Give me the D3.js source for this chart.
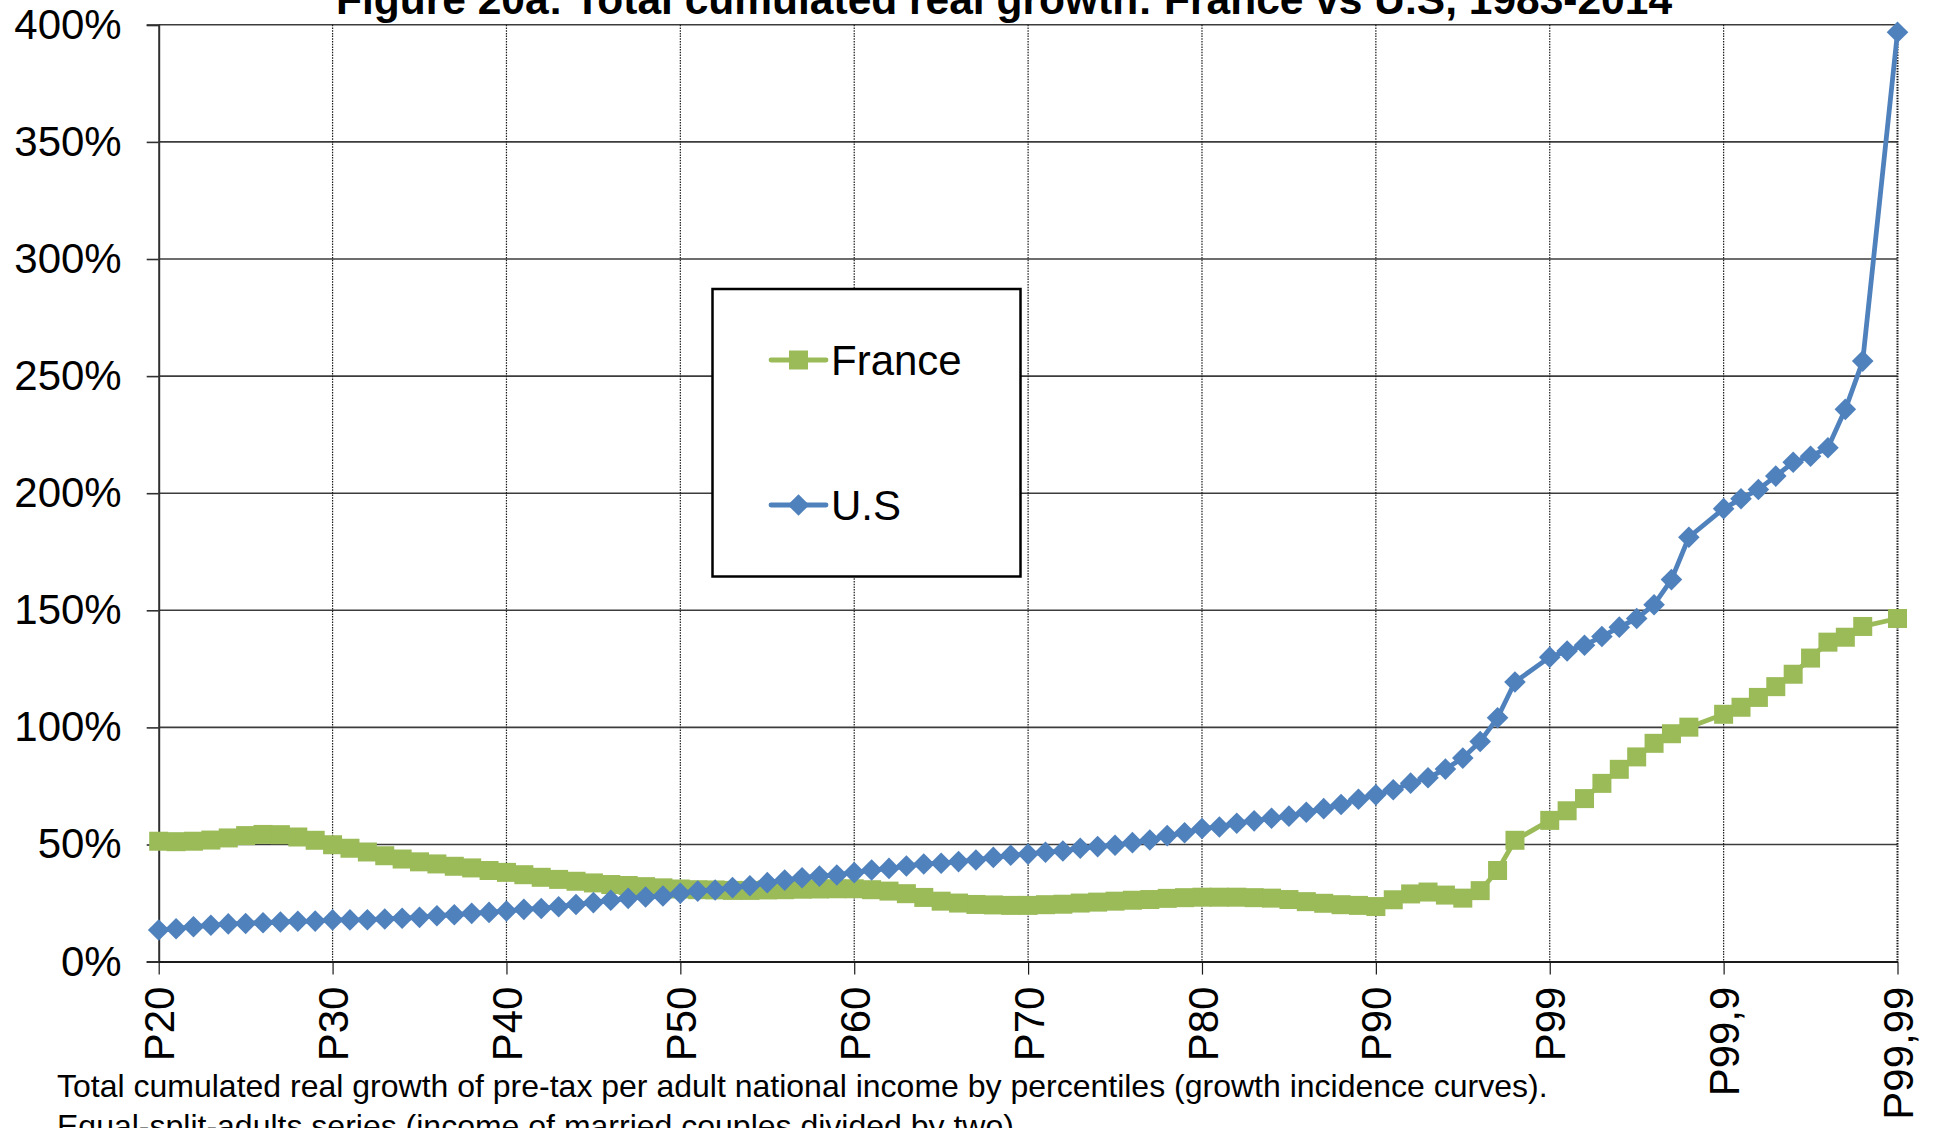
<!DOCTYPE html>
<html>
<head>
<meta charset="utf-8">
<script src="https://cdn.jsdelivr.net/npm/d3@7"></script>
<style>
  html, body { margin: 0; padding: 0; background: #ffffff; }
  svg { display: block; }
  text { font-family: "Liberation Sans", Arial, Helvetica, sans-serif; fill: #000; }
</style>
</head>
<body>
<svg id="chart" width="1933" height="1128"></svg>
<script>
// Percentile categories (null = blank category row without an observation)
const categories = [
  "P20","P21","P22","P23","P24","P25","P26","P27","P28","P29",
  "P30","P31","P32","P33","P34","P35","P36","P37","P38","P39",
  "P40","P41","P42","P43","P44","P45","P46","P47","P48","P49",
  "P50","P51","P52","P53","P54","P55","P56","P57","P58","P59",
  "P60","P61","P62","P63","P64","P65","P66","P67","P68","P69",
  "P70","P71","P72","P73","P74","P75","P76","P77","P78","P79",
  "P80","P81","P82","P83","P84","P85","P86","P87","P88","P89",
  "P90","P91","P92","P93","P94","P95","P96","P97","P98",null,
  "P99","P99,1","P99,2","P99,3","P99,4","P99,5","P99,6","P99,7","P99,8",null,
  "P99,9","P99,91","P99,92","P99,93","P99,94","P99,95","P99,96","P99,97","P99,98",null,
  "P99,99"
];

// Total cumulated real growth 1983-2014, in %
const franceGrowth = [
  51.4, 51.2, 51.4, 51.9, 52.8, 53.8, 54.3, 54.2, 53.2, 51.8,
  49.9, 48.4, 46.8, 45.2, 43.8, 42.6, 41.7, 40.7, 40.0, 38.9,
  38.1, 37.1, 36.0, 35.1, 34.3, 33.6, 32.9, 32.5, 32.0, 31.5,
  31.0, 30.7, 30.6, 30.4, 30.4, 30.6, 30.7, 30.9, 31.0, 31.1,
  31.1, 30.7, 30.1, 29.0, 27.4, 25.8, 25.0, 24.4, 24.2, 24.0,
  24.0, 24.3, 24.5, 25.0, 25.4, 25.8, 26.2, 26.5, 27.0, 27.3,
  27.5, 27.5, 27.5, 27.3, 27.1, 26.5, 25.6, 24.9, 24.3, 24.0,
  23.5, 26.4, 28.9, 29.7, 28.4, 27.1, 30.3, 38.9, 51.8, null,
  60.3, 64.4, 69.6, 76.1, 82.1, 87.4, 93.2, 97.3, 100.1, null,
  105.6, 108.6, 112.8, 117.4, 122.7, 129.6, 136.4, 138.5, 143.1, null,
  146.5
];

const usGrowth = [
  13.5, 14.0, 14.9, 15.5, 16.1, 16.3, 16.6, 16.9, 17.2, 17.3,
  17.8, 17.8, 17.9, 18.2, 18.5, 18.9, 19.6, 20.0, 20.6, 21.0,
  21.6, 22.3, 22.7, 23.4, 24.4, 25.2, 26.2, 27.0, 27.6, 28.0,
  29.2, 30.1, 30.6, 31.6, 32.4, 33.7, 34.8, 35.8, 36.5, 37.0,
  38.0, 39.1, 39.8, 40.8, 41.7, 42.0, 42.7, 43.4, 44.5, 45.4,
  45.9, 46.7, 47.2, 48.4, 49.1, 49.7, 50.8, 51.9, 53.8, 55.0,
  56.8, 57.5, 59.1, 60.1, 61.2, 62.1, 63.8, 65.3, 67.1, 69.3,
  71.2, 73.4, 76.2, 78.5, 82.2, 86.9, 94.0, 104.1, 119.4, null,
  130.0, 132.6, 135.1, 138.8, 142.8, 146.5, 152.4, 163.1, 181.2, null,
  193.4, 197.6, 201.6, 207.3, 213.2, 215.8, 219.4, 235.8, 256.4, null,
  396.8
];

// Axis labels
const xTickLabels = ["P20","P30","P40","P50","P60","P70","P80","P90","P99","P99,9","P99,99"];
const yTickValues = [0, 50, 100, 150, 200, 250, 300, 350, 400];

const seriesNames = ["France", "U.S"];
const seriesColors = ["#9BBB59", "#4F81BD"];

const titleText = "Figure 20a: Total cumulated real growth: France vs U.S, 1983-2014";
const noteLines = [
  "Total cumulated real growth of pre-tax per adult national income by percentiles (growth incidence curves).",
  "Equal-split-adults series (income of married couples divided by two)"
];

const svg = d3.select("#chart");
const FONT = 42;

const plot = { left: 158.7, right: 1897.5, top: 24.8, bottom: 961.6 };

const x = d3.scaleLinear()
  .domain([0, categories.length - 1])
  .range([plot.left, plot.right]);

const y = d3.scaleLinear()
  .domain([0, 400])
  .range([plot.bottom, plot.top]);

const xTickIdx = xTickLabels.map(l => categories.indexOf(l));

// Horizontal gridlines
svg.append("g")
  .selectAll("line")
  .data(yTickValues.filter(v => v > 0))
  .join("line")
  .attr("x1", plot.left).attr("x2", plot.right)
  .attr("y1", d => y(d)).attr("y2", d => y(d))
  .attr("stroke", "#3c3c3c").attr("stroke-width", 1.6);

// Vertical dotted gridlines at labelled categories
svg.append("g")
  .selectAll("line")
  .data(xTickIdx.filter(i => i > 0))
  .join("line")
  .attr("x1", d => x(d)).attr("x2", d => x(d))
  .attr("y1", plot.top).attr("y2", plot.bottom)
  .attr("stroke", "#1a1a1a")
  .attr("stroke-width", (d, i, n) => i === n.length - 1 ? 2 : 1.2)
  .attr("stroke-dasharray", "1.5,1.2");

// Y axis
const yAxis = svg.append("g")
  .attr("transform", `translate(${plot.left},0)`)
  .call(d3.axisLeft(y).tickValues(yTickValues).tickFormat(d => d + "%").tickSize(12).tickPadding(25));
yAxis.select(".domain").attr("stroke", "#303030").attr("stroke-width", 2);
yAxis.selectAll(".tick line").attr("stroke", "#303030").attr("stroke-width", 1.6);
yAxis.selectAll(".tick text")
  .attr("font-size", FONT)
  .attr("font-family", "Liberation Sans, Arial, sans-serif")
  .attr("fill", "#000");

// X axis line and ticks
const xAxis = svg.append("g")
  .attr("transform", `translate(0,${plot.bottom})`)
  .call(d3.axisBottom(x).tickValues(xTickIdx).tickFormat(i => categories[i]).tickSize(13).tickSizeOuter(0));
xAxis.select(".domain").attr("stroke", "#1a1a1a").attr("stroke-width", 2);
xAxis.selectAll(".tick line").attr("stroke", "#1a1a1a").attr("stroke-width", 1.2);
xAxis.selectAll(".tick text")
  .attr("font-size", FONT)
  .attr("font-family", "Liberation Sans, Arial, sans-serif")
  .attr("fill", "#000")
  .attr("text-anchor", "end")
  .attr("transform", "translate(0,25) rotate(-90)")
  .attr("x", 0)
  .attr("y", 0)
  .attr("dy", "0.36em");

// Series lines and markers
const lineGen = d3.line()
  .x(d => x(d.i))
  .y(d => y(d.v));

function pointsOf(values) {
  return values.map((v, i) => ({ i, v })).filter(d => d.v !== null);
}

const franceSeries = pointsOf(franceGrowth);
const usSeries = pointsOf(usGrowth);

const SQ = 19;
const DI = 10.8;
const LW = 4.8;

// France
svg.append("path")
  .datum(franceSeries)
  .attr("d", lineGen)
  .attr("fill", "none")
  .attr("stroke", seriesColors[0])
  .attr("stroke-width", LW)
  .attr("stroke-linejoin", "round");
svg.append("g")
  .selectAll("rect")
  .data(franceSeries)
  .join("rect")
  .attr("x", d => x(d.i) - SQ / 2)
  .attr("y", d => y(d.v) - SQ / 2)
  .attr("width", SQ).attr("height", SQ)
  .attr("fill", seriesColors[0]);

// U.S
const diamond = (cx, cy, r) => `M${cx},${cy - r}L${cx + r},${cy}L${cx},${cy + r}L${cx - r},${cy}Z`;
svg.append("path")
  .datum(usSeries)
  .attr("d", lineGen)
  .attr("fill", "none")
  .attr("stroke", seriesColors[1])
  .attr("stroke-width", LW)
  .attr("stroke-linejoin", "round");
svg.append("g")
  .selectAll("path")
  .data(usSeries)
  .join("path")
  .attr("d", d => diamond(x(d.i), y(d.v), DI))
  .attr("fill", seriesColors[1]);

// Legend
const legend = svg.append("g");
legend.append("rect")
  .attr("x", 712.5).attr("y", 289)
  .attr("width", 308).attr("height", 287.5)
  .attr("fill", "#fff")
  .attr("stroke", "#000").attr("stroke-width", 2.5);

const legendRows = [360, 505];
seriesNames.forEach((name, k) => {
  const ly = legendRows[k];
  const g = legend.append("g");
  g.append("line")
    .attr("x1", 771).attr("x2", 826)
    .attr("y1", ly).attr("y2", ly)
    .attr("stroke", seriesColors[k]).attr("stroke-width", LW)
    .attr("stroke-linecap", "round");
  if (k === 0) {
    g.append("rect")
      .attr("x", 798.5 - SQ / 2).attr("y", ly - SQ / 2)
      .attr("width", SQ).attr("height", SQ)
      .attr("fill", seriesColors[k]);
  } else {
    g.append("path")
      .attr("d", diamond(798.5, ly, DI))
      .attr("fill", seriesColors[k]);
  }
  g.append("text")
    .attr("x", 831).attr("y", ly)
    .attr("dy", "0.36em")
    .attr("font-size", FONT)
    .text(name);
});

// Title (partly above the top edge)
svg.append("text")
  .attr("x", 1004).attr("y", 14)
  .attr("text-anchor", "middle")
  .attr("font-size", 42.5)
  .attr("font-weight", "bold")
  .text(titleText);

// Note under the chart
svg.append("g")
  .selectAll("text")
  .data(noteLines)
  .join("text")
  .attr("x", 57)
  .attr("y", (d, i) => 1097 + i * 40)
  .attr("font-size", 32)
  .text(d => d);
</script>
</body>
</html>
